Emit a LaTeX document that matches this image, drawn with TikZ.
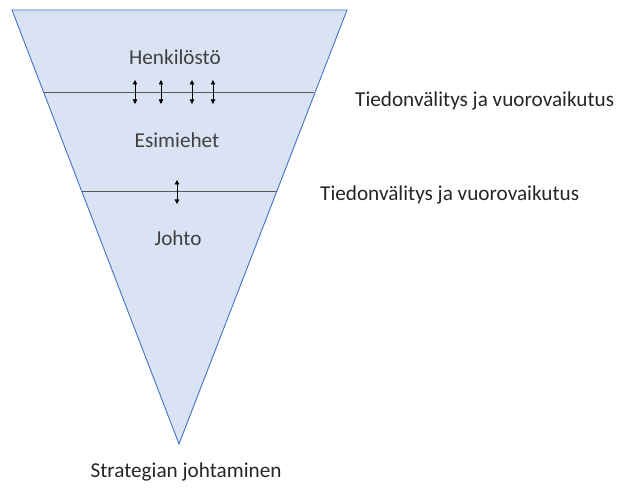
\documentclass[tikz,border=0pt]{standalone}
\usepackage{fontspec}
\setmainfont{Carlito}
\usetikzlibrary{arrows.meta}
\definecolor{fillblue}{HTML}{DAE3F3}
\definecolor{edgeblue}{HTML}{4472C4}
\definecolor{txtgray}{HTML}{404040}
\begin{document}
\begin{tikzpicture}[x=1pt,y=-1pt,
  lbl/.style={font=\fontsize{21.2}{24}\selectfont, text=txtgray, inner sep=0pt},
  rlbl/.style={font=\fontsize{21.2}{24}\selectfont, text=black!85, inner sep=0pt, anchor=west},
  sep/.style={draw=black!65, line width=0.8pt},
  dbl/.style={{Triangle[length=4.5pt,width=4.5pt]}-{Triangle[length=4.5pt,width=4.5pt]}, line width=0.8pt, black}]
\useasboundingbox (0,0) rectangle (619,489);
\coordinate (tl) at (12,10);
\coordinate (tr) at (347,10);
\coordinate (ap) at (179,444);
\draw[fill=fillblue, draw=edgeblue, line width=0.9pt] (tl) -- (tr) -- (ap) -- cycle;
\coordinate (l1a) at (43.6,92);
\coordinate (l1b) at (314,92);
\coordinate (l2a) at (82,191);
\coordinate (l2b) at (277,191);
\draw[sep] (l1a) -- (l1b);
\draw[sep] (l2a) -- (l2b);
\foreach \x/\n in {135/a,161/b,192/c,213/d}{
  \coordinate (u\n) at (\x,80);
  \coordinate (d\n) at (\x,104);
  \draw[dbl] (u\n) -- (d\n);
}
\coordinate (ue) at (177,180);
\coordinate (de) at (177,204);
\draw[dbl] (ue) -- (de);
\node[lbl] (henk) at (175,57) {Henkilöstö};
\node[lbl] (esim) at (177,140) {Esimiehet};
\node[lbl] (joh) at (178,238) {Johto};
\node[rlbl] (t1) at (355,101) {Tiedonvälitys ja vuorovaikutus};
\node[rlbl] (t2) at (320,195) {Tiedonvälitys ja vuorovaikutus};
\node[lbl, text=black!85] (str) at (186,472) {Strategian johtaminen};
\end{tikzpicture}
\end{document}
